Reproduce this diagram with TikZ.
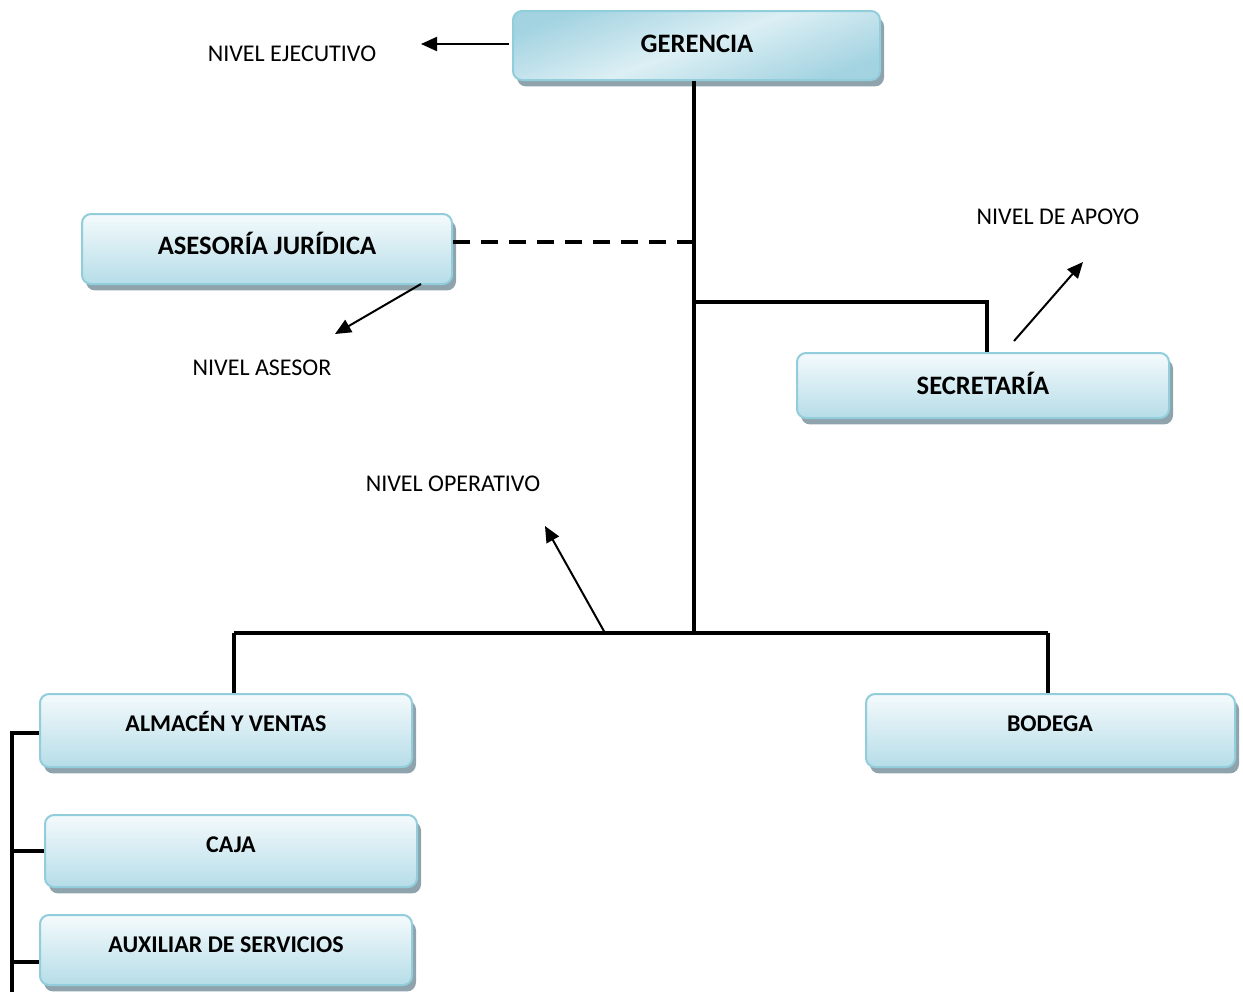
\documentclass[tikz,border=0pt]{standalone}
\usepackage{fontspec}
\setmainfont{Carlito}
\usetikzlibrary{shadows,arrows.meta}
\definecolor{boxborder}{HTML}{92CDDC}
\definecolor{boxtop}{HTML}{F4FAFC}
\definecolor{boxbot}{HTML}{B6DDE8}
\definecolor{shadowgray}{HTML}{8FA3AC}
\definecolor{gerdark}{HTML}{A3D3E1}
\definecolor{gerlight}{HTML}{DCEFF4}
\tikzset{
  orgbox/.style={draw=boxborder, line width=1pt, rounded corners=4.5pt,
    top color=boxtop, bottom color=boxbot,
    drop shadow={shadow xshift=2pt, shadow yshift=-3.2pt, fill=shadowgray, opacity=1}},
  gerbox/.style={orgbox, top color=gerdark, bottom color=gerdark, middle color=gerlight, shading angle=20},
  boxtext/.style={font=\fontsize{13.3}{15}\selectfont\bfseries, inner sep=0pt, anchor=base},
  smallboxtext/.style={font=\fontsize{12}{14}\selectfont\bfseries, inner sep=0pt, anchor=base},
  lvltext/.style={font=\fontsize{12}{14}\selectfont, inner sep=0pt, anchor=base},
  conn/.style={line width=2pt, black},
  dashconn/.style={line width=2pt, black, dash pattern=on 8.5pt off 5.5pt},
  pointer/.style={line width=1pt, black, -{Triangle[length=8pt, width=7pt]}}
}
\begin{document}
\begin{tikzpicture}[x=0.5pt, y=-0.5pt]
\useasboundingbox (0,0) rectangle (1243,992);
% boxes
\node[gerbox, minimum width=183.5pt, minimum height=34.5pt] (ger) at (696.5,45.5) {};
\node[orgbox, minimum width=185pt, minimum height=35pt] (ase) at (267,249) {};
\node[orgbox, minimum width=186pt, minimum height=32.5pt] (sec) at (983,385.5) {};
\node[orgbox, minimum width=186pt, minimum height=36.5pt] (alm) at (226,730.5) {};
\node[orgbox, minimum width=184.5pt, minimum height=36.5pt] (bod) at (1050.5,730.5) {};
\node[orgbox, minimum width=186pt, minimum height=36pt] (caj) at (231,851) {};
\node[orgbox, minimum width=186pt, minimum height=35pt] (aux) at (226,950) {};
% box texts
\node[boxtext] (tger) at (697,52) {GERENCIA};
\node[boxtext] (tase) at (267,254) {ASESORÍA JURÍDICA};
\node[boxtext] (tsec) at (983,394) {SECRETARÍA};
\node[smallboxtext] (talm) at (226,731.5) {ALMACÉN Y VENTAS};
\node[smallboxtext] (tbod) at (1050,731.5) {BODEGA};
\node[smallboxtext] (tcaj) at (231,852.5) {CAJA};
\node[smallboxtext] (taux) at (226,952.5) {AUXILIAR DE SERVICIOS};
% level texts
\node[lvltext] (lej) at (292,61.8) {NIVEL EJECUTIVO};
\node[lvltext] (lap) at (1058,224.8) {NIVEL DE APOYO};
\node[lvltext] (las) at (262,375.8) {NIVEL ASESOR};
\node[lvltext] (lop) at (453,491.8) {NIVEL OPERATIVO};
% coordinates
\coordinate (tb) at (694,633);
\coordinate (td) at (694,242);
\coordinate (ts) at (694,302);
\coordinate (sc) at (987,302);
\coordinate (bl) at (234,633);
\coordinate (br) at (1048,633);
\coordinate (bx) at (12,992);
\coordinate (bt) at (12,733);
\coordinate (bc) at (12,851);
\coordinate (ba) at (12,962);
\coordinate (ejs) at (509,44);
\coordinate (eje) at (421,44);
\coordinate (ass) at (421,284);
\coordinate (ase2) at (335,334);
\coordinate (aps) at (1014,341);
\coordinate (ape) at (1083,262);
\coordinate (ops) at (605,633);
\coordinate (ope) at (545,526);
% connectors
\draw[conn] (ger.south -| tb) -- (tb);
\draw[dashconn] (ase.east |- td) -- (td);
\draw[conn] (ts) -- (sc) -- (sec.north -| sc);
\draw[conn] (bl) -- (br);
\draw[conn] (bl) -- (alm.north -| bl);
\draw[conn] (br) -- (bod.north -| br);
\draw[conn] (bx) -- ([yshift=-1pt]bt);
\draw[conn] ([xshift=-1pt]bt) -- (alm.west |- bt);
\draw[conn] (bc) -- (caj.west |- bc);
\draw[conn] (ba) -- (aux.west |- ba);
% pointers
\draw[pointer] (ejs) -- (eje);
\draw[pointer] (ass) -- (ase2);
\draw[pointer] (aps) -- (ape);
\draw[pointer] (ops) -- (ope);
\end{tikzpicture}
\end{document}
